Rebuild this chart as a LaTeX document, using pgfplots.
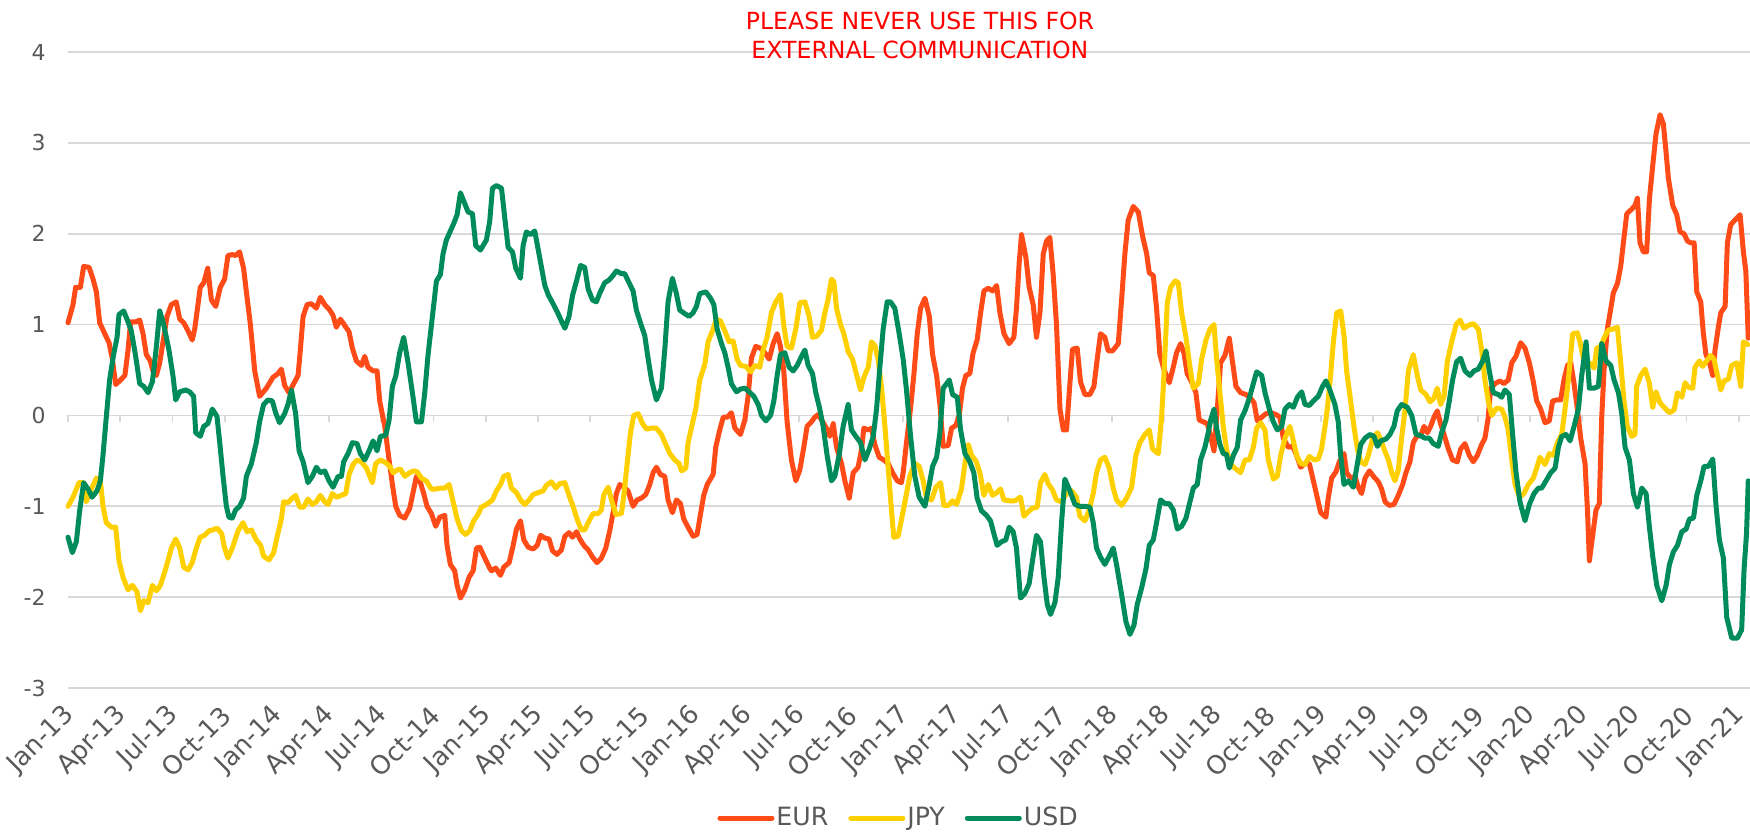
\documentclass[border=0pt]{standalone}
\usepackage{fontspec}
\setmainfont{DejaVu Sans}
\usepackage{pgfplots}
\pgfplotsset{compat=1.18}

\definecolor{eurc}{HTML}{FF4B17}
\definecolor{jpyc}{HTML}{FFD000}
\definecolor{usdc}{HTML}{008C5A}
\definecolor{gridc}{HTML}{D9D9D9}
\definecolor{labc}{HTML}{595959}

\begin{document}
\begin{tikzpicture}
% page size: 1750 x 832 px at 0.5pt per px
\path[use as bounding box] (-34pt,-71.5pt) rectangle (841pt,344pt);
\begin{axis}[
  at={(0pt,0pt)}, anchor=south west,
  scale only axis, width=841pt, height=318pt,
  xmin=0, xmax=96.65, ymin=-3, ymax=4,
  clip=false,
  ytick={-3,-2,-1,0,1,2,3,4},
  yticklabels={-3,-2,-1,0,1,2,3,4},
  xtick={0,3,...,96},
  xticklabels={Jan-13,Apr-13,Jul-13,Oct-13,Jan-14,Apr-14,Jul-14,Oct-14,
    Jan-15,Apr-15,Jul-15,Oct-15,Jan-16,Apr-16,Jul-16,Oct-16,
    Jan-17,Apr-17,Jul-17,Oct-17,Jan-18,Apr-18,Jul-18,Oct-18,
    Jan-19,Apr-19,Jul-19,Oct-19,Jan-20,Apr-20,Jul-20,Oct-20,Jan-21},
  ymajorgrids, grid style={gridc, line width=0.9pt},
  axis line style={draw=none},
  tick style={draw=none},
  tick label style={text=labc},
  yticklabel style={font=\fontsize{11}{13}\selectfont, inner sep=0pt, anchor=east, xshift=-11pt},
  xticklabel style={font=\fontsize{12.8}{14}\selectfont, inner sep=0pt, xshift=1pt, yshift=-11.5pt, rotate=45, anchor=east},
  legend style={at={(0.4938,-0.2044)}, anchor=center, draw=none, fill=none,
    inner sep=0pt, font=\fontsize{12.6}{14}\selectfont, text=labc,
    nodes={inner sep=1pt},
    /tikz/every even column/.append style={column sep=9pt}},
  legend columns=3,
  legend image code/.code={\draw[#1, line cap=round] (0pt,0pt) -- (26pt,0pt);},
  every axis plot/.append style={line width=2.5pt, line join=round, line cap=round, mark=none},
]

% small tick marks on the zero line
\pgfplotsinvokeforeach{0,3,...,96}{
  \draw[gridc, line width=0.9pt] (axis cs:#1,0) -- ([yshift=-3.5pt]axis cs:#1,0);
}

\addplot[eurc] coordinates {
(0.00,1.02) (0.29,1.22) (0.44,1.41) (0.71,1.41) (0.90,1.64) (1.21,1.63) (1.44,1.50) (1.63,1.36) (1.82,1.02) (2.11,0.90) (2.36,0.80) (2.55,0.62) (2.74,0.34) (2.97,0.38) (3.27,0.44) (3.45,0.72) (3.60,1.03) (3.89,1.03) (4.12,1.05) (4.31,0.90) (4.50,0.67) (4.73,0.60) (4.88,0.49) (5.08,0.44) (5.27,0.58) (5.46,0.81) (5.69,1.09) (5.94,1.22) (6.22,1.25) (6.42,1.06) (6.65,1.02) (6.90,0.93) (7.14,0.83) (7.28,0.95) (7.47,1.22) (7.60,1.41) (7.80,1.46) (8.03,1.62) (8.24,1.27) (8.49,1.20) (8.75,1.41) (9.00,1.50) (9.19,1.76) (9.44,1.77) (9.63,1.76) (9.86,1.80) (10.09,1.62) (10.25,1.36) (10.48,1.00) (10.73,0.49) (11.01,0.21) (11.40,0.30) (11.78,0.42) (12.07,0.46) (12.26,0.51) (12.45,0.33) (12.70,0.25) (12.97,0.35) (13.22,0.44) (13.35,0.72) (13.51,1.09) (13.74,1.22) (13.98,1.23) (14.27,1.18) (14.50,1.30) (14.75,1.22) (15.04,1.16) (15.23,1.10) (15.42,0.97) (15.65,1.06) (15.90,0.99) (16.15,0.92) (16.34,0.74) (16.57,0.60) (16.86,0.55) (17.05,0.65) (17.24,0.53) (17.53,0.49) (17.76,0.49) (17.91,0.16) (18.20,-0.12) (18.45,-0.49) (18.64,-0.76) (18.83,-1.00) (19.06,-1.10) (19.35,-1.13) (19.64,-1.02) (19.87,-0.81) (20.02,-0.67) (20.25,-0.74) (20.44,-0.86) (20.63,-1.00) (20.88,-1.08) (21.13,-1.22) (21.36,-1.12) (21.65,-1.10) (21.78,-1.43) (21.97,-1.64) (22.22,-1.71) (22.36,-1.87) (22.55,-2.01) (22.80,-1.92) (23.05,-1.78) (23.28,-1.71) (23.47,-1.46) (23.66,-1.45) (23.95,-1.57) (24.23,-1.68) (24.33,-1.71) (24.58,-1.68) (24.85,-1.76) (25.04,-1.67) (25.35,-1.62) (25.58,-1.43) (25.77,-1.25) (26.00,-1.16) (26.19,-1.37) (26.44,-1.45) (26.73,-1.47) (26.96,-1.43) (27.15,-1.32) (27.40,-1.35) (27.64,-1.36) (27.84,-1.49) (28.10,-1.53) (28.35,-1.48) (28.55,-1.33) (28.79,-1.29) (28.99,-1.34) (29.22,-1.28) (29.41,-1.36) (29.64,-1.43) (29.89,-1.48) (30.14,-1.56) (30.40,-1.62) (30.65,-1.57) (30.90,-1.46) (31.13,-1.27) (31.32,-1.07) (31.51,-0.86) (31.71,-0.76) (31.94,-0.79) (32.18,-0.83) (32.47,-1.00) (32.70,-0.93) (32.95,-0.91) (33.20,-0.87) (33.43,-0.76) (33.62,-0.63) (33.81,-0.57) (34.04,-0.65) (34.29,-0.67) (34.48,-0.93) (34.73,-1.07) (34.96,-0.93) (35.19,-0.97) (35.38,-1.14) (35.63,-1.23) (35.92,-1.33) (36.15,-1.31) (36.34,-1.09) (36.53,-0.88) (36.73,-0.76) (37.07,-0.65) (37.22,-0.35) (37.45,-0.16) (37.65,-0.02) (37.88,-0.02) (38.12,0.03) (38.32,-0.14) (38.64,-0.21) (38.89,-0.05) (39.08,0.21) (39.27,0.63) (39.52,0.76) (39.79,0.74) (40.04,0.69) (40.29,0.62) (40.52,0.79) (40.75,0.90) (40.94,0.76) (41.13,0.49) (41.32,-0.07) (41.57,-0.49) (41.82,-0.72) (42.05,-0.60) (42.28,-0.35) (42.47,-0.12) (42.72,-0.07) (42.91,-0.02) (43.11,0.01) (43.30,-0.05) (43.58,-0.14) (43.78,-0.23) (43.97,-0.09) (44.16,-0.35) (44.45,-0.53) (44.64,-0.72) (44.89,-0.91) (45.12,-0.63) (45.40,-0.57) (45.60,-0.37) (45.73,-0.14) (45.98,-0.16) (46.17,-0.14) (46.36,-0.32) (46.61,-0.46) (46.88,-0.49) (47.13,-0.53) (47.38,-0.63) (47.65,-0.72) (47.89,-0.74) (47.99,-0.63) (48.18,-0.30) (48.41,0.07) (48.60,0.44) (48.80,0.90) (48.99,1.18) (49.24,1.29) (49.49,1.09) (49.68,0.67) (49.91,0.44) (50.10,0.12) (50.29,-0.34) (50.58,-0.33) (50.77,-0.14) (51.02,-0.11) (51.21,0.00) (51.40,0.30) (51.59,0.44) (51.82,0.46) (52.01,0.69) (52.24,0.83) (52.44,1.13) (52.63,1.37) (52.88,1.40) (53.13,1.37) (53.36,1.43) (53.55,1.13) (53.78,0.90) (54.08,0.79) (54.35,0.86) (54.50,1.18) (54.66,1.69) (54.79,1.99) (55.04,1.74) (55.23,1.41) (55.46,1.22) (55.65,0.86) (55.85,1.13) (56.04,1.78) (56.23,1.92) (56.42,1.96) (56.61,1.55) (56.80,1.00) (57.00,0.07) (57.19,-0.16) (57.38,-0.16) (57.57,0.35) (57.72,0.73) (57.99,0.74) (58.18,0.37) (58.43,0.23) (58.72,0.23) (58.95,0.32) (59.14,0.62) (59.33,0.90) (59.58,0.86) (59.77,0.71) (60.02,0.71) (60.35,0.79) (60.54,1.27) (60.73,1.78) (60.92,2.15) (61.21,2.30) (61.50,2.24) (61.75,1.97) (61.98,1.78) (62.13,1.57) (62.36,1.54) (62.55,1.18) (62.74,0.67) (62.97,0.51) (63.28,0.36) (63.51,0.53) (63.70,0.69) (63.93,0.79) (64.12,0.69) (64.31,0.46) (64.56,0.37) (64.81,0.25) (65.00,-0.05) (65.23,-0.07) (65.46,-0.09) (65.66,-0.23) (65.85,-0.39) (66.04,0.07) (66.23,0.58) (66.48,0.66) (66.73,0.85) (66.92,0.58) (67.11,0.32) (67.38,0.25) (67.69,0.23) (67.95,0.19) (68.15,0.14) (68.34,-0.06) (68.59,-0.02) (68.84,0.02) (69.10,0.03) (69.41,0.01) (69.64,-0.02) (69.83,-0.25) (70.12,-0.35) (70.37,-0.34) (70.60,-0.44) (70.83,-0.57) (71.08,-0.53) (71.33,-0.53) (71.56,-0.72) (71.79,-0.91) (71.98,-1.07) (72.28,-1.12) (72.42,-0.90) (72.61,-0.69) (72.86,-0.62) (73.05,-0.51) (73.32,-0.42) (73.47,-0.63) (73.70,-0.69) (73.95,-0.67) (74.14,-0.79) (74.33,-0.86) (74.53,-0.69) (74.78,-0.61) (75.01,-0.67) (75.29,-0.73) (75.48,-0.81) (75.68,-0.95) (75.92,-0.99) (76.19,-0.98) (76.44,-0.88) (76.69,-0.76) (76.88,-0.63) (77.11,-0.51) (77.30,-0.30) (77.50,-0.23) (77.73,-0.22) (77.92,-0.12) (78.11,-0.19) (78.30,-0.12) (78.49,-0.02) (78.68,0.05) (78.87,-0.09) (79.07,-0.21) (79.32,-0.37) (79.56,-0.49) (79.83,-0.51) (80.02,-0.37) (80.27,-0.31) (80.52,-0.44) (80.75,-0.51) (80.98,-0.44) (81.23,-0.32) (81.42,-0.25) (81.61,-0.02) (81.75,0.30) (82.00,0.35) (82.28,0.38) (82.51,0.35) (82.76,0.39) (82.96,0.58) (83.20,0.65) (83.47,0.80) (83.72,0.74) (83.97,0.58) (84.20,0.37) (84.39,0.16) (84.62,0.07) (84.87,-0.08) (85.12,-0.06) (85.31,0.16) (85.54,0.17) (85.77,0.17) (85.96,0.39) (86.16,0.55) (86.35,0.58) (86.54,0.35) (86.73,0.07) (86.92,-0.25) (87.17,-0.53) (87.31,-1.04) (87.42,-1.60) (87.61,-1.32) (87.80,-1.04) (87.99,-0.97) (88.13,-0.02) (88.26,0.49) (88.45,0.95) (88.61,1.13) (88.80,1.35) (89.03,1.45) (89.22,1.64) (89.41,1.96) (89.57,2.22) (89.85,2.27) (90.04,2.31) (90.18,2.39) (90.33,1.90) (90.52,1.80) (90.71,1.80) (90.87,2.38) (91.06,2.75) (91.25,3.10) (91.48,3.31) (91.67,3.21) (91.83,2.89) (91.96,2.61) (92.21,2.31) (92.44,2.21) (92.63,2.02) (92.86,2.00) (93.05,1.92) (93.24,1.90) (93.44,1.90) (93.59,1.36) (93.82,1.25) (93.97,0.90) (94.12,0.67) (94.32,0.58) (94.51,0.44) (94.64,0.72) (94.83,0.97) (94.97,1.13) (95.22,1.20) (95.35,1.90) (95.54,2.10) (95.79,2.15) (96.08,2.21) (96.27,1.80) (96.41,1.59) (96.55,0.85)
};
\addlegendentry{EUR}

\addplot[jpyc] coordinates {
(0.00,-1.00) (0.29,-0.90) (0.63,-0.74) (0.86,-0.74) (1.05,-0.95) (1.34,-0.81) (1.63,-0.69) (1.86,-0.72) (2.01,-1.00) (2.20,-1.18) (2.49,-1.23) (2.74,-1.23) (2.93,-1.60) (3.16,-1.78) (3.45,-1.92) (3.70,-1.87) (3.96,-1.94) (4.16,-2.15) (4.35,-2.04) (4.60,-2.06) (4.85,-1.87) (5.08,-1.93) (5.31,-1.87) (5.61,-1.69) (5.94,-1.46) (6.19,-1.36) (6.42,-1.46) (6.65,-1.67) (6.90,-1.70) (7.14,-1.62) (7.37,-1.46) (7.60,-1.34) (7.85,-1.32) (8.10,-1.27) (8.33,-1.26) (8.56,-1.24) (8.83,-1.30) (9.00,-1.46) (9.19,-1.57) (9.44,-1.46) (9.77,-1.27) (10.06,-1.18) (10.29,-1.28) (10.54,-1.26) (10.82,-1.37) (11.07,-1.43) (11.24,-1.55) (11.55,-1.59) (11.82,-1.51) (12.01,-1.34) (12.26,-1.14) (12.39,-0.95) (12.64,-0.96) (12.89,-0.91) (13.08,-0.88) (13.31,-1.01) (13.54,-1.01) (13.79,-0.92) (14.04,-0.98) (14.27,-0.95) (14.50,-0.88) (14.75,-0.95) (14.94,-0.98) (15.19,-0.86) (15.42,-0.90) (15.71,-0.88) (15.96,-0.86) (16.15,-0.65) (16.38,-0.54) (16.61,-0.49) (16.86,-0.51) (17.15,-0.58) (17.34,-0.67) (17.49,-0.74) (17.68,-0.53) (17.95,-0.49) (18.26,-0.52) (18.49,-0.56) (18.68,-0.63) (18.91,-0.60) (19.10,-0.59) (19.35,-0.67) (19.64,-0.63) (19.87,-0.61) (20.06,-0.62) (20.31,-0.69) (20.59,-0.72) (20.88,-0.81) (21.13,-0.81) (21.40,-0.80) (21.65,-0.80) (21.90,-0.76) (22.13,-0.95) (22.36,-1.14) (22.61,-1.27) (22.85,-1.31) (23.08,-1.27) (23.31,-1.16) (23.56,-1.09) (23.75,-1.01) (24.04,-0.98) (24.39,-0.93) (24.62,-0.83) (24.85,-0.76) (25.04,-0.67) (25.29,-0.65) (25.48,-0.80) (25.77,-0.85) (26.00,-0.93) (26.25,-0.98) (26.50,-0.93) (26.73,-0.87) (27.01,-0.85) (27.30,-0.83) (27.49,-0.77) (27.78,-0.73) (28.03,-0.80) (28.26,-0.75) (28.55,-0.74) (28.79,-0.88) (29.02,-1.00) (29.25,-1.14) (29.50,-1.26) (29.69,-1.26) (29.94,-1.16) (30.17,-1.08) (30.46,-1.08) (30.65,-1.04) (30.79,-0.87) (31.04,-0.79) (31.23,-0.93) (31.48,-1.09) (31.80,-1.08) (31.94,-0.88) (32.13,-0.53) (32.32,-0.19) (32.51,0.00) (32.76,0.02) (33.01,-0.09) (33.24,-0.15) (33.53,-0.14) (33.81,-0.14) (34.10,-0.21) (34.35,-0.32) (34.58,-0.42) (34.87,-0.49) (35.12,-0.53) (35.25,-0.61) (35.50,-0.58) (35.63,-0.30) (35.82,-0.14) (36.07,0.07) (36.30,0.39) (36.59,0.56) (36.78,0.81) (37.03,0.93) (37.26,1.06) (37.49,1.04) (37.74,0.93) (37.99,0.81) (38.22,0.82) (38.45,0.62) (38.64,0.55) (38.95,0.54) (39.22,0.48) (39.47,0.55) (39.75,0.53) (39.94,0.72) (40.17,0.86) (40.42,1.13) (40.67,1.25) (40.94,1.33) (41.13,0.99) (41.32,0.76) (41.57,0.74) (41.82,0.95) (42.05,1.24) (42.34,1.25) (42.59,1.09) (42.78,0.86) (43.01,0.87) (43.30,0.94) (43.49,1.13) (43.68,1.28) (43.87,1.50) (44.01,1.47) (44.16,1.18) (44.39,1.00) (44.58,0.90) (44.83,0.70) (45.08,0.62) (45.31,0.45) (45.54,0.28) (45.73,0.42) (45.98,0.53) (46.17,0.81) (46.36,0.77) (46.55,0.62) (46.75,0.30) (46.94,-0.12) (47.13,-0.58) (47.32,-1.05) (47.45,-1.34) (47.70,-1.33) (47.95,-1.09) (48.18,-0.86) (48.37,-0.67) (48.66,-0.53) (48.91,-0.56) (49.14,-0.72) (49.33,-0.91) (49.62,-0.93) (49.87,-0.79) (50.14,-0.74) (50.33,-0.99) (50.58,-0.99) (50.83,-0.94) (51.06,-0.98) (51.34,-0.81) (51.54,-0.53) (51.73,-0.32) (51.92,-0.44) (52.17,-0.50) (52.40,-0.63) (52.63,-0.88) (52.88,-0.76) (53.13,-0.88) (53.36,-0.85) (53.59,-0.81) (53.78,-0.93) (54.12,-0.94) (54.41,-0.94) (54.73,-0.90) (54.93,-1.11) (55.18,-1.06) (55.42,-1.02) (55.69,-1.01) (55.88,-0.74) (56.13,-0.65) (56.32,-0.75) (56.57,-0.82) (56.80,-0.93) (57.09,-0.95) (57.38,-0.86) (57.67,-0.83) (57.95,-0.90) (58.14,-1.11) (58.43,-1.16) (58.68,-1.04) (58.91,-0.86) (59.10,-0.63) (59.33,-0.49) (59.58,-0.46) (59.83,-0.58) (60.06,-0.80) (60.25,-0.93) (60.54,-0.99) (60.83,-0.91) (61.12,-0.79) (61.36,-0.44) (61.59,-0.30) (61.88,-0.21) (62.13,-0.16) (62.32,-0.37) (62.65,-0.42) (62.84,-0.02) (62.97,0.44) (63.17,1.25) (63.36,1.41) (63.61,1.48) (63.80,1.46) (63.99,1.13) (64.24,0.86) (64.47,0.53) (64.66,0.30) (64.95,0.35) (65.14,0.62) (65.39,0.83) (65.62,0.95) (65.85,1.00) (66.00,0.62) (66.19,0.25) (66.38,-0.12) (66.57,-0.37) (66.77,-0.53) (67.05,-0.58) (67.38,-0.63) (67.63,-0.49) (67.88,-0.49) (68.11,-0.35) (68.30,-0.14) (68.53,-0.08) (68.78,-0.16) (68.97,-0.49) (69.26,-0.70) (69.49,-0.67) (69.68,-0.44) (69.93,-0.25) (70.21,-0.12) (70.41,-0.28) (70.60,-0.44) (70.83,-0.53) (71.08,-0.54) (71.33,-0.45) (71.59,-0.49) (71.84,-0.48) (72.03,-0.37) (72.23,-0.12) (72.36,0.07) (72.55,0.44) (72.71,0.81) (72.90,1.13) (73.13,1.15) (73.32,0.88) (73.47,0.49) (73.70,0.16) (73.89,-0.12) (74.09,-0.37) (74.28,-0.51) (74.53,-0.54) (74.72,-0.44) (74.97,-0.25) (75.24,-0.19) (75.43,-0.26) (75.62,-0.37) (75.87,-0.49) (76.06,-0.63) (76.25,-0.72) (76.44,-0.60) (76.63,-0.25) (76.83,0.07) (77.02,0.49) (77.30,0.67) (77.53,0.44) (77.73,0.28) (78.03,0.23) (78.26,0.15) (78.49,0.19) (78.68,0.30) (78.87,0.12) (79.07,0.21) (79.26,0.60) (79.51,0.81) (79.76,1.00) (79.99,1.05) (80.22,0.96) (80.46,0.99) (80.75,1.01) (81.04,0.95) (81.23,0.72) (81.42,0.39) (81.61,0.16) (81.81,0.00) (82.09,0.08) (82.38,0.07) (82.57,-0.02) (82.76,-0.16) (82.96,-0.49) (83.15,-0.76) (83.40,-0.90) (83.66,-0.86) (83.91,-0.76) (84.20,-0.69) (84.39,-0.58) (84.58,-0.46) (84.87,-0.54) (85.12,-0.42) (85.35,-0.44) (85.58,-0.30) (85.83,-0.21) (86.02,0.07) (86.21,0.39) (86.46,0.90) (86.73,0.91) (86.88,0.81) (87.08,0.62) (87.31,0.58) (87.50,0.57) (87.69,0.52) (87.84,0.74) (88.07,0.76) (88.26,0.85) (88.51,0.94) (88.76,0.95) (89.03,0.97) (89.22,0.58) (89.41,0.16) (89.60,-0.12) (89.85,-0.23) (90.04,-0.21) (90.14,0.32) (90.37,0.44) (90.62,0.51) (90.87,0.35) (91.06,0.09) (91.25,0.26) (91.48,0.14) (91.71,0.09) (92.02,0.03) (92.29,0.06) (92.48,0.25) (92.73,0.20) (92.92,0.36) (93.11,0.31) (93.36,0.30) (93.49,0.53) (93.74,0.60) (93.93,0.54) (94.16,0.60) (94.39,0.66) (94.58,0.62) (94.78,0.44) (94.97,0.28) (95.16,0.38) (95.41,0.40) (95.60,0.55) (95.89,0.58) (96.12,0.32) (96.27,0.81) (96.52,0.78)
};
\addlegendentry{JPY}

\addplot[usdc] coordinates {
(0.00,-1.34) (0.25,-1.51) (0.48,-1.39) (0.67,-1.05) (0.90,-0.74) (1.15,-0.81) (1.38,-0.90) (1.67,-0.83) (1.86,-0.72) (2.01,-0.44) (2.20,-0.02) (2.39,0.39) (2.62,0.67) (2.82,0.86) (2.93,1.11) (3.20,1.15) (3.39,1.06) (3.64,0.93) (3.89,0.65) (4.12,0.35) (4.35,0.32) (4.60,0.25) (4.85,0.37) (5.08,0.76) (5.27,1.15) (5.50,1.00) (5.80,0.72) (6.03,0.44) (6.19,0.17) (6.42,0.26) (6.76,0.28) (6.99,0.26) (7.22,0.21) (7.34,-0.19) (7.60,-0.23) (7.80,-0.12) (8.04,-0.09) (8.29,0.07) (8.56,-0.01) (8.72,-0.30) (8.91,-0.67) (9.10,-1.00) (9.25,-1.12) (9.44,-1.13) (9.63,-1.04) (9.86,-1.00) (10.09,-0.91) (10.25,-0.67) (10.54,-0.53) (10.82,-0.30) (11.01,-0.07) (11.24,0.12) (11.49,0.17) (11.74,0.16) (11.93,0.03) (12.16,-0.08) (12.45,0.02) (12.64,0.12) (12.84,0.28) (13.08,0.02) (13.28,-0.39) (13.51,-0.51) (13.79,-0.74) (14.04,-0.67) (14.27,-0.57) (14.50,-0.63) (14.75,-0.61) (15.00,-0.72) (15.23,-0.79) (15.52,-0.67) (15.71,-0.67) (15.84,-0.51) (16.09,-0.42) (16.34,-0.30) (16.61,-0.31) (16.80,-0.42) (17.05,-0.49) (17.30,-0.39) (17.53,-0.28) (17.76,-0.39) (17.95,-0.23) (18.26,-0.22) (18.45,-0.05) (18.64,0.32) (18.83,0.43) (19.06,0.69) (19.29,0.86) (19.54,0.58) (19.79,0.25) (20.02,-0.07) (20.31,-0.07) (20.50,0.25) (20.69,0.67) (20.94,1.09) (21.17,1.48) (21.40,1.55) (21.55,1.78) (21.74,1.93) (21.97,2.03) (22.16,2.11) (22.36,2.21) (22.55,2.45) (22.74,2.36) (22.99,2.24) (23.24,2.22) (23.43,1.87) (23.70,1.82) (24.04,1.93) (24.23,2.13) (24.39,2.50) (24.62,2.53) (24.91,2.50) (25.10,2.17) (25.29,1.85) (25.54,1.80) (25.73,1.62) (26.00,1.51) (26.15,1.87) (26.34,2.02) (26.57,1.99) (26.82,2.03) (27.11,1.73) (27.40,1.43) (27.59,1.33) (27.87,1.23) (28.16,1.12) (28.35,1.04) (28.55,0.96) (28.79,1.09) (28.99,1.32) (29.22,1.48) (29.45,1.65) (29.69,1.63) (29.89,1.39) (30.14,1.27) (30.36,1.25) (30.59,1.36) (30.84,1.46) (31.09,1.49) (31.32,1.54) (31.51,1.59) (31.80,1.56) (31.99,1.56) (32.24,1.46) (32.47,1.37) (32.66,1.16) (32.89,1.02) (33.14,0.88) (33.33,0.63) (33.53,0.39) (33.81,0.17) (34.10,0.30) (34.29,0.72) (34.48,1.25) (34.73,1.51) (34.96,1.34) (35.15,1.16) (35.44,1.12) (35.69,1.09) (35.92,1.13) (36.11,1.20) (36.30,1.34) (36.65,1.36) (36.92,1.29) (37.11,1.22) (37.30,0.95) (37.55,0.79) (37.74,0.69) (37.93,0.53) (38.12,0.35) (38.41,0.26) (38.64,0.29) (38.89,0.30) (39.14,0.26) (39.41,0.21) (39.66,0.12) (39.85,0.00) (40.10,-0.06) (40.37,0.00) (40.56,0.16) (40.75,0.44) (40.94,0.67) (41.19,0.69) (41.44,0.53) (41.67,0.49) (41.90,0.55) (42.15,0.65) (42.34,0.72) (42.53,0.55) (42.78,0.46) (42.97,0.25) (43.20,0.07) (43.39,-0.12) (43.62,-0.44) (43.87,-0.72) (44.06,-0.67) (44.31,-0.44) (44.54,-0.12) (44.83,0.12) (45.02,-0.16) (45.27,-0.23) (45.54,-0.30) (45.79,-0.49) (46.04,-0.37) (46.27,-0.23) (46.46,0.07) (46.65,0.53) (46.84,0.95) (47.07,1.25) (47.26,1.25) (47.51,1.18) (47.76,0.90) (47.99,0.62) (48.18,0.28) (48.41,-0.22) (48.66,-0.67) (48.91,-0.90) (49.24,-1.00) (49.49,-0.76) (49.68,-0.56) (49.91,-0.46) (50.10,-0.19) (50.29,0.30) (50.64,0.39) (50.83,0.23) (51.10,0.20) (51.29,-0.16) (51.54,-0.42) (51.82,-0.51) (52.05,-0.63) (52.24,-0.91) (52.49,-1.05) (52.78,-1.10) (53.01,-1.16) (53.20,-1.30) (53.39,-1.43) (53.64,-1.39) (53.89,-1.37) (54.08,-1.23) (54.31,-1.28) (54.50,-1.46) (54.73,-2.01) (54.98,-1.96) (55.23,-1.85) (55.42,-1.60) (55.65,-1.32) (55.88,-1.39) (56.08,-1.78) (56.27,-2.08) (56.46,-2.19) (56.71,-2.06) (56.90,-1.78) (57.09,-1.18) (57.28,-0.70) (57.57,-0.83) (57.86,-0.98) (58.14,-1.00) (58.43,-1.00) (58.72,-1.01) (58.91,-1.18) (59.10,-1.46) (59.33,-1.56) (59.58,-1.64) (59.83,-1.55) (60.06,-1.46) (60.25,-1.64) (60.54,-1.97) (60.79,-2.27) (61.02,-2.41) (61.25,-2.31) (61.44,-2.08) (61.69,-1.90) (61.94,-1.69) (62.13,-1.43) (62.36,-1.37) (62.55,-1.18) (62.78,-0.93) (63.03,-0.97) (63.28,-0.97) (63.51,-1.04) (63.74,-1.25) (63.99,-1.22) (64.24,-1.13) (64.47,-0.95) (64.66,-0.80) (64.89,-0.76) (65.08,-0.49) (65.33,-0.35) (65.52,-0.19) (65.66,-0.05) (65.85,0.07) (66.00,-0.14) (66.19,-0.32) (66.38,-0.42) (66.57,-0.43) (66.73,-0.58) (66.96,-0.44) (67.19,-0.35) (67.38,-0.05) (67.63,0.05) (67.88,0.19) (68.11,0.35) (68.30,0.48) (68.59,0.44) (68.78,0.25) (69.03,0.07) (69.26,-0.07) (69.49,-0.16) (69.74,-0.12) (69.93,0.07) (70.18,0.12) (70.41,0.09) (70.64,0.20) (70.89,0.26) (71.08,0.12) (71.33,0.11) (71.56,0.16) (71.84,0.21) (72.09,0.32) (72.28,0.38) (72.51,0.28) (72.80,0.12) (72.99,-0.07) (73.13,-0.44) (73.32,-0.76) (73.57,-0.72) (73.86,-0.79) (74.09,-0.53) (74.28,-0.32) (74.53,-0.25) (74.81,-0.21) (75.04,-0.23) (75.24,-0.34) (75.43,-0.28) (75.73,-0.26) (75.96,-0.21) (76.19,-0.12) (76.38,0.05) (76.63,0.12) (76.96,0.09) (77.21,0.00) (77.46,-0.21) (77.69,-0.22) (77.97,-0.25) (78.22,-0.25) (78.45,-0.31) (78.74,-0.34) (78.93,-0.19) (79.18,-0.05) (79.37,0.16) (79.56,0.39) (79.79,0.59) (80.02,0.63) (80.27,0.49) (80.56,0.44) (80.79,0.49) (81.04,0.51) (81.29,0.60) (81.48,0.71) (81.67,0.49) (81.90,0.25) (82.19,0.23) (82.38,0.20) (82.57,0.28) (82.82,0.23) (83.01,-0.21) (83.20,-0.62) (83.43,-0.95) (83.72,-1.16) (83.97,-0.98) (84.24,-0.86) (84.49,-0.80) (84.68,-0.80) (84.93,-0.72) (85.20,-0.63) (85.45,-0.58) (85.64,-0.35) (85.83,-0.23) (86.08,-0.21) (86.31,-0.28) (86.54,-0.12) (86.79,0.07) (86.98,0.44) (87.23,0.81) (87.42,0.30) (87.69,0.30) (87.94,0.32) (88.13,0.79) (88.38,0.60) (88.65,0.55) (88.84,0.39) (89.09,0.25) (89.28,0.02) (89.47,-0.35) (89.72,-0.49) (89.95,-0.86) (90.18,-1.01) (90.43,-0.80) (90.68,-0.86) (90.87,-1.23) (91.06,-1.55) (91.29,-1.87) (91.58,-2.04) (91.83,-1.87) (92.02,-1.64) (92.25,-1.50) (92.48,-1.43) (92.73,-1.28) (92.98,-1.25) (93.17,-1.14) (93.40,-1.13) (93.59,-0.88) (93.82,-0.72) (94.01,-0.56) (94.26,-0.56) (94.51,-0.48) (94.70,-1.00) (94.89,-1.37) (95.12,-1.57) (95.31,-2.22) (95.60,-2.45) (95.93,-2.45) (96.17,-2.36) (96.31,-1.69) (96.45,-1.30) (96.55,-0.72)
};
\addlegendentry{USD}

\node[text=red, font=\fontsize{11.8}{14.5}\selectfont, align=center]
  at (axis description cs:0.5065,1.0255)
  {PLEASE NEVER USE THIS FOR\\EXTERNAL COMMUNICATION};
\end{axis}
\end{tikzpicture}
\end{document}
